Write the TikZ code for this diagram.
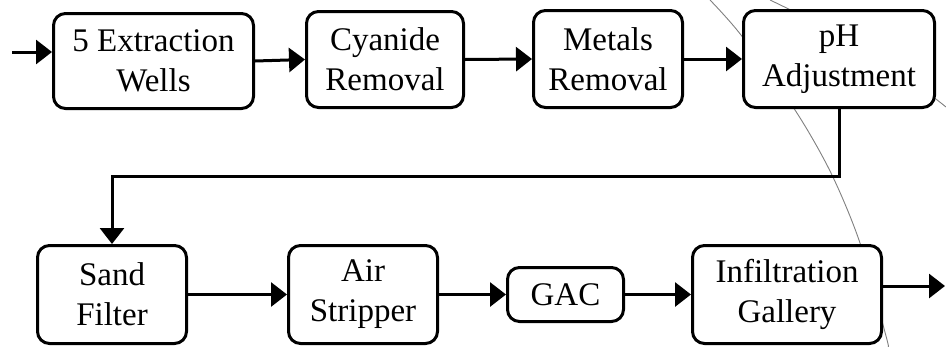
\documentclass[tikz,border=0pt]{standalone}
\usepackage{fontspec}
\setmainfont{Liberation Serif}
\usetikzlibrary{arrows.meta}

\begin{document}
\begin{tikzpicture}[x=1pt,y=-1pt,>={Triangle[length=16pt,width=24pt]},box/.style={draw,fill=white,rounded corners=12pt,line width=3pt,align=center,inner sep=0pt,font=\fontsize{33}{40}\selectfont},arrow/.style={->,line width=3pt},guide/.style={draw=gray,line width=0.9pt}]
\useasboundingbox (0,0) rectangle (946,346);
\draw[guide] plot[smooth] coordinates {(710,0) (741,35) (795,110) (831,173) (860,243) (886,336) (888,346)};
\draw[guide] (770,0) .. controls (850,38) and (900,70) .. (946,107);
\node[box,minimum width=200pt,minimum height=95pt] (wells) at (153.5,61) {5 Extraction\\Wells}; \node[box,minimum width=157pt,minimum height=96pt] (cyanide) at (385,59.5) {Cyanide\\Removal}; \node[box,minimum width=149pt,minimum height=97pt] (metals) at (608,59) {Metals\\Removal}; \node[box,minimum width=191pt,minimum height=97pt] (ph) at (839,59) {pH\\Adjustment};
\coordinate (in) at (12,52); \draw[arrow] (in)--(in -| wells.west);
\draw[arrow] (wells.east)--(cyanide.west); \draw[arrow] (cyanide.east)--(metals.west); \draw[arrow] (metals.east)--(ph.west);
\node[box,minimum width=149pt,minimum height=98pt] (sand) at (112,294.5) {Sand\\Filter}; \node[box,minimum width=149pt,minimum height=98pt] (air) at (363,294.5) {Air\\Stripper}; \node[box,minimum width=116pt,minimum height=54pt] (gac) at (565.5,294.5) {GAC}; \node[box,minimum width=189pt,minimum height=98pt] (gallery) at (787,294.5) {Infiltration\\Gallery};
\coordinate (turn) at (112,176); \draw[arrow] (ph.south) |- (turn) -- (sand.north);
\draw[arrow] (sand.east)--(air.west); \draw[arrow] (air.east)--(gac.west); \draw[arrow] (gac.east)--(gallery.west);
\coordinate (out) at (945,286); \draw[arrow] (out -| gallery.east)--(out);
\end{tikzpicture}
\end{document}
